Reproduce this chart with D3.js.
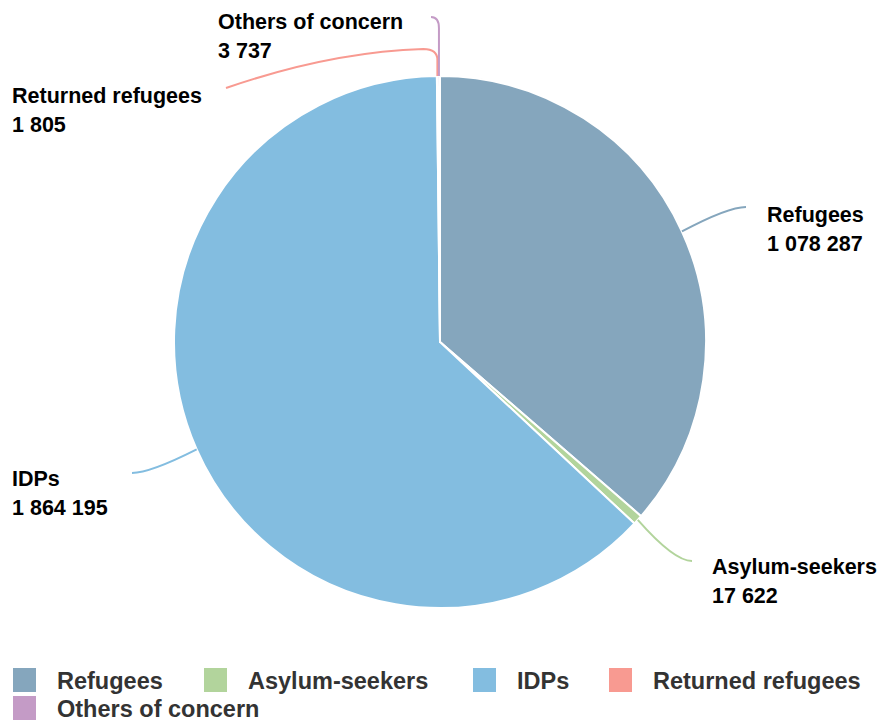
<!DOCTYPE html>
<html>
<head>
<meta charset="utf-8">
<script src="https://cdn.jsdelivr.net/npm/d3@7"></script>
<style>
  html, body { margin: 0; padding: 0; background: #fff; }
  svg { display: block; font-family: "Liberation Sans", Arial, sans-serif; }
</style>
</head>
<body>
<svg width="883" height="721"></svg>
<script>
const width = 883;
const height = 721;

// data
var categories = ["Refugees", "Asylum-seekers", "IDPs", "Returned refugees", "Others of concern"];
var values = [1078287, 17622, 1864195, 1805, 3737];
var colors = ["#85a6bd", "#b2d49c", "#83bde0", "#f89a91", "#c49bc6"];

// where each data label sits (text x, first baseline, anchor side)
var labelPos = {
    "Refugees":          {x: 767, y: 222, side: "left"},
    "Asylum-seekers":    {x: 712, y: 574, side: "left"},
    "IDPs":              {x: 12,  y: 486, side: "right"},
    "Returned refugees": {x: 12,  y: 103, side: "right"},
    "Others of concern": {x: 218, y: 29,  side: "right"}
};
var connectorEnd = {
    "Refugees": [746, 207],
    "Asylum-seekers": [692, 561],
    "IDPs": [132, 473],
    "Returned refugees": [226, 88],
    "Others of concern": [431, 17]
};

var cx = 440, cy = 342, radius = 266;

var svg = d3.select("svg");
var g = svg.append("g").attr("transform", "translate(" + cx + "," + cy + ")");

var fmt = function (v) { return d3.format(",")(v).replace(/,/g, " "); };

var data = categories.map(function (c, i) { return {name: c, value: values[i], color: colors[i]}; });

var pie = d3.pie().sort(null).value(function (d) { return d.value; });
var arcs = pie(data);

var arc = d3.arc().innerRadius(0).outerRadius(radius);

g.selectAll("path.slice")
    .data(arcs)
    .enter().append("path")
    .attr("class", "slice")
    .attr("d", arc)
    .attr("fill", function (d) { return d.data.color; })
    .attr("stroke", "#fff")
    .attr("stroke-width", 2)
    .attr("stroke-linejoin", "round");

function edgePoint(d) {
    var a = (d.startAngle + d.endAngle) / 2;
    return [cx + radius * Math.sin(a), cy - radius * Math.cos(a)];
}

function connector(d) {
    var p = edgePoint(d);
    var lp = labelPos[d.data.name];
    var e = connectorEnd[d.data.name];
    var path = d3.path();
    path.moveTo(p[0], p[1]);
    if (d.data.name === "Returned refugees") {
        path.lineTo(p[0], 60);
        path.quadraticCurveTo(p[0], 49, p[0] - 14, 49);
        path.quadraticCurveTo(330, 52, e[0], e[1]);
    } else if (d.data.name === "Others of concern") {
        path.lineTo(p[0], e[1] + 11);
        path.quadraticCurveTo(p[0], e[1], e[0], e[1]);
    } else {
        var kx = lp.side === "left" ? e[0] - 18 : e[0] + 18;
        path.quadraticCurveTo(kx, e[1], e[0], e[1]);
    }
    return path.toString();
}

svg.selectAll("path.connector")
    .data(arcs)
    .enter().append("path")
    .attr("class", "connector")
    .attr("d", connector)
    .attr("fill", "none")
    .attr("stroke", function (d) { return d.data.color; })
    .attr("stroke-width", 2);

var labels = svg.selectAll("text.label")
    .data(arcs)
    .enter().append("text")
    .attr("class", "label")
    .attr("font-size", 21.5)
    .attr("font-weight", "bold")
    .attr("fill", "#000");

labels.append("tspan")
    .attr("x", function (d) { return labelPos[d.data.name].x; })
    .attr("y", function (d) { return labelPos[d.data.name].y; })
    .text(function (d) { return d.data.name; });
labels.append("tspan")
    .attr("x", function (d) { return labelPos[d.data.name].x; })
    .attr("y", function (d) { return labelPos[d.data.name].y + 29; })
    .text(function (d) { return fmt(d.data.value); });

// legend
var legendX = [13, 204, 473, 609, 13];
var legendY = [668, 668, 668, 668, 696];

var legend = svg.selectAll("g.legend")
    .data(data)
    .enter().append("g")
    .attr("class", "legend")
    .attr("transform", function (d, i) { return "translate(" + legendX[i] + "," + legendY[i] + ")"; });

legend.append("rect")
    .attr("width", 23)
    .attr("height", 24)
    .attr("fill", function (d) { return d.color; });

legend.append("text")
    .attr("x", 44)
    .attr("y", 21)
    .attr("font-size", 23.5)
    .attr("font-weight", "bold")
    .attr("fill", "#333")
    .text(function (d) { return d.name; });
</script>
</body>
</html>
